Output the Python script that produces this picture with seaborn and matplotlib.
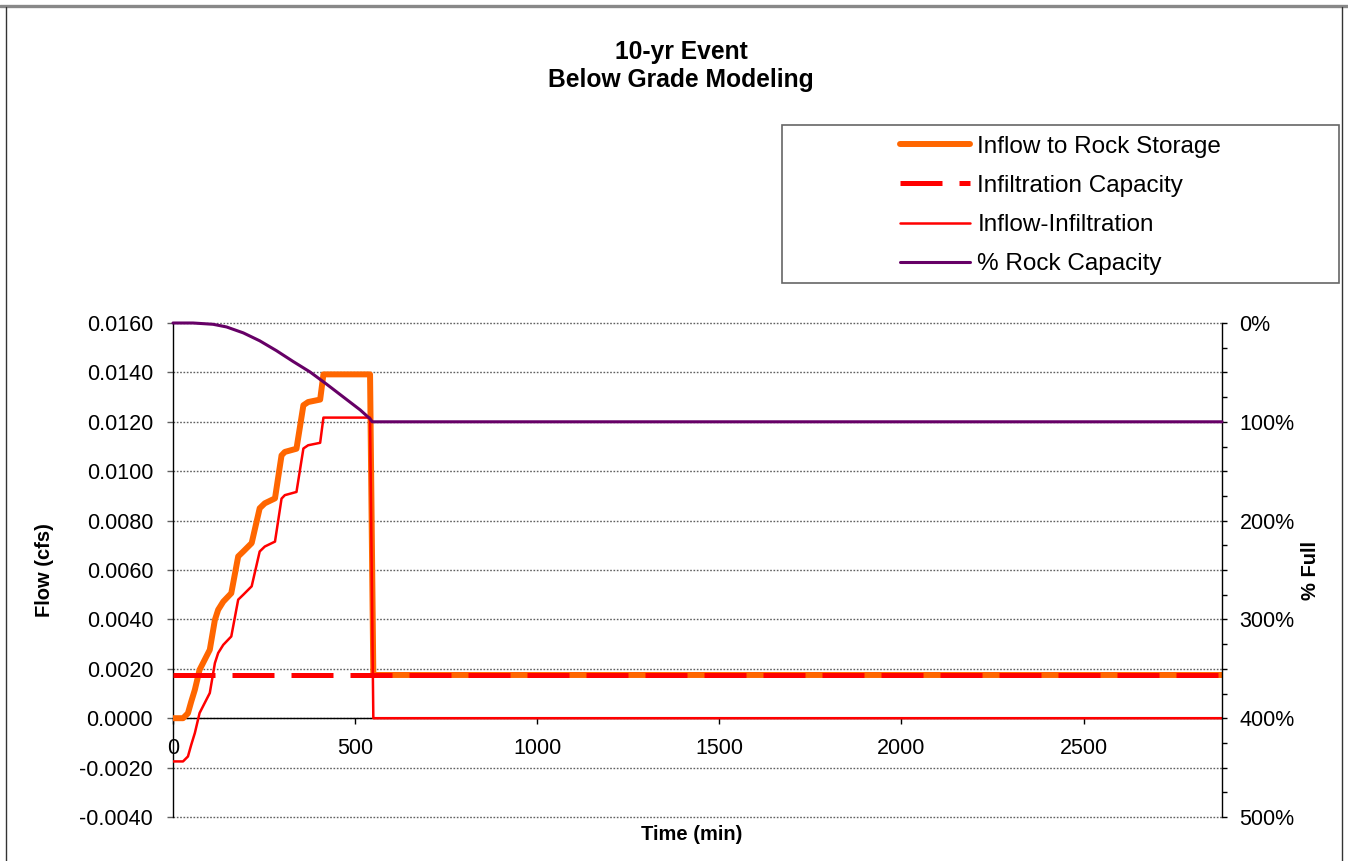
import matplotlib
matplotlib.use("Agg")
import matplotlib.pyplot as plt
import matplotlib.ticker as mticker
from matplotlib.patches import Rectangle
from matplotlib.lines import Line2D
import seaborn as sns
import pandas as pd

# ---------------- data ----------------
time_inflow = [0, 27.5, 41, 50, 60, 73, 101, 115, 124, 138, 160, 179, 193, 216,
               238, 252, 280, 298, 307, 339, 358, 371, 404, 413, 541, 550, 2880]
inflow = [0.0, 0.0, 0.0002, 0.00067, 0.00115, 0.00196, 0.00277, 0.00398, 0.00439,
          0.00472, 0.00506, 0.00655, 0.00675, 0.00709, 0.0085, 0.0087, 0.0089,
          0.01064, 0.01078, 0.01091, 0.01267, 0.0128, 0.0129, 0.01392, 0.01392,
          0.00175, 0.00175]

time_infil = [0, 2880]
infiltration = [0.00175, 0.00175]

time_net = [0, 27.5, 41, 50, 60, 73, 101, 115, 124, 138, 160, 179, 193, 216,
            238, 252, 280, 298, 307, 339, 358, 371, 404, 413, 541, 550, 2880]
inflow_minus_infil = [-0.00175, -0.00175, -0.00155, -0.00108, -0.0006, 0.00021,
                      0.00102, 0.00223, 0.00264, 0.00297, 0.00331, 0.0048, 0.005,
                      0.00534, 0.00675, 0.00695, 0.00715, 0.00889, 0.00903, 0.00916,
                      0.01092, 0.01105, 0.01115, 0.01217, 0.01217, 0.0, 0.0]

time_pct = [0, 55, 110, 147, 193, 238, 284, 330, 376, 422, 468, 514, 541, 547, 2880]
pct_rock = [0, 0, 1.3, 4, 10, 18, 28, 39, 49.5, 62, 75, 88, 97, 100, 100]

flow_ticks = [-0.004, -0.002, 0.0, 0.002, 0.004, 0.006, 0.008, 0.010, 0.012, 0.014, 0.016]
pct_ticks = [0, 100, 200, 300, 400, 500]
time_ticks = [0, 500, 1000, 1500, 2000, 2500]

labels = ["Inflow to Rock Storage", "Infiltration Capacity", "Inflow-Infiltration", "% Rock Capacity"]
title = "10-yr Event\nBelow Grade Modeling"

# ---------------- style ----------------
sns.set_style("white")
plt.rcParams["font.family"] = ["Liberation Sans", "DejaVu Sans"]
plt.rcParams["text.color"] = "black"
plt.rcParams["axes.labelcolor"] = "black"
plt.rcParams["xtick.labelcolor"] = "black"
plt.rcParams["ytick.labelcolor"] = "black"

W, H = 1348, 861
fig = plt.figure(figsize=(W / 100, H / 100), dpi=100)
fig.patch.set_facecolor("white")

def fx(px):
    return px / W

def fy(py):
    return 1 - py / H

ax = fig.add_axes([fx(173), fy(817), fx(1222) - fx(173), fy(323) - fy(817)])
ax2 = ax.twinx()
ax2.set_position(ax.get_position())

ORANGE = "#FF6600"
RED = "#FF0000"
PURPLE = "#660066"

df_in = pd.DataFrame({"t": time_inflow, "v": inflow})
df_inf = pd.DataFrame({"t": time_infil, "v": infiltration})
df_net = pd.DataFrame({"t": time_net, "v": inflow_minus_infil})
df_pct = pd.DataFrame({"t": time_pct, "v": pct_rock})

sns.lineplot(data=df_in, x="t", y="v", ax=ax, color=ORANGE, linewidth=4.3,
             estimator=None, sort=False, label=labels[0], zorder=3)
sns.lineplot(data=df_inf, x="t", y="v", ax=ax, color=RED, linewidth=3.6,
             linestyle=(0, (8.4, 3.4)), estimator=None, sort=False,
             label=labels[1], zorder=4)
sns.lineplot(data=df_net, x="t", y="v", ax=ax, color=RED, linewidth=1.8,
             estimator=None, sort=False, label=labels[2], zorder=5)
sns.lineplot(data=df_pct, x="t", y="v", ax=ax2, color=PURPLE, linewidth=2.2,
             estimator=None, sort=False, label=labels[3], zorder=6, clip_on=False)

for a in (ax, ax2):
    lg = a.get_legend()
    if lg is not None:
        lg.remove()

# ---------------- axes ----------------
ax.set_xlim(0, 2880)
ax.set_ylim(-0.004, 0.016)
ax.set_yticks(flow_ticks)
ax.yaxis.set_major_formatter(mticker.FormatStrFormatter("%.4f"))
ax.set_xticks(time_ticks)
ax.set_xticklabels([str(t) for t in time_ticks])

ax2.set_ylim(500, 0)
ax2.set_yticks(pct_ticks)
ax2.set_yticklabels([f"{p}%" for p in pct_ticks])
ax2.yaxis.set_minor_locator(mticker.MultipleLocator(25))

ax.grid(axis="y", color="#606060", linestyle=(0, (1.2, 1.2)), linewidth=1.0, zorder=0)
ax.grid(axis="x", visible=False)
ax2.grid(False)
ax.set_axisbelow(True)
for gl in ax.get_ygridlines():
    gl.set_clip_on(False)

for s in ("top", "right"):
    ax.spines[s].set_visible(False)
ax.spines["left"].set_color("black")
ax.spines["left"].set_linewidth(1.0)
ax.spines["bottom"].set_position(("data", 0))
ax.spines["bottom"].set_color("black")
ax.spines["bottom"].set_linewidth(1.0)
ax.spines["bottom"].set_zorder(2)
for s in ("top", "left", "bottom"):
    ax2.spines[s].set_visible(False)
ax2.spines["right"].set_color("black")
ax2.spines["right"].set_linewidth(1.0)

ax.tick_params(axis="y", which="major", direction="out", length=4.3, width=1,
               color="#606060", pad=10, labelsize=15.5, left=True, labelcolor="black")
ax.tick_params(axis="x", which="major", direction="out", length=4.3, width=1,
               color="black", pad=10, labelsize=15.5, bottom=True, labelcolor="black")
ax2.tick_params(axis="y", which="major", direction="out", length=3.6, width=1,
                color="black", pad=9, labelsize=15.5, right=True, labelcolor="black")
ax2.tick_params(axis="y", which="minor", direction="out", length=3.6, width=1,
                color="black", right=True)

ax.set_xlabel("Time (min)", fontsize=14.5, fontweight="bold", va="center")
ax.xaxis.set_label_coords((692 - 173) / 1049, -(835 - 817) / 494)
ax.set_ylabel("Flow (cfs)", fontsize=14.5, fontweight="bold", va="center")
ax.yaxis.set_label_coords((45 - 173) / 1049, 0.5)
ax2.set_ylabel("% Full", fontsize=14.5, fontweight="bold", va="center", rotation=90)
ax2.yaxis.set_label_coords((1311 - 173) / 1049, 0.5)

# ---------------- title ----------------
fig.text(fx(681), fy(66), title, ha="center", va="center", fontsize=17.7,
         fontweight="bold", linespacing=1.25)

# ---------------- legend ----------------
handles = [
    Line2D([], [], color=ORANGE, linewidth=4.3),
    Line2D([], [], color=RED, linewidth=3.6, linestyle=(0, (8.4, 3.4))),
    Line2D([], [], color=RED, linewidth=1.8),
    Line2D([], [], color=PURPLE, linewidth=2.2),
]
fig.legend(handles, labels, loc="center left", bbox_to_anchor=(fx(900), fy(205.5)),
           frameon=False, fontsize=17.5, handlelength=2.88, handletextpad=0.3,
           labelspacing=0.71, borderpad=0, borderaxespad=0)
fig.patches.append(Rectangle((fx(782), fy(283)), fx(1339) - fx(782), fy(125) - fy(283),
                             transform=fig.transFigure, fill=False,
                             edgecolor="#666666", linewidth=1.2))

# ---------------- outer chart border ----------------
fig.lines.append(Line2D([0, 1], [fy(5.5), fy(5.5)], transform=fig.transFigure,
                        color="#888888", linewidth=2.4))
fig.lines.append(Line2D([fx(6), fx(6)], [fy(7), 0], transform=fig.transFigure,
                        color="#333333", linewidth=1.0))
fig.lines.append(Line2D([fx(1342), fx(1342)], [fy(7), 0], transform=fig.transFigure,
                        color="#333333", linewidth=1.0))

fig.savefig("out.png", dpi=100, facecolor="white")
